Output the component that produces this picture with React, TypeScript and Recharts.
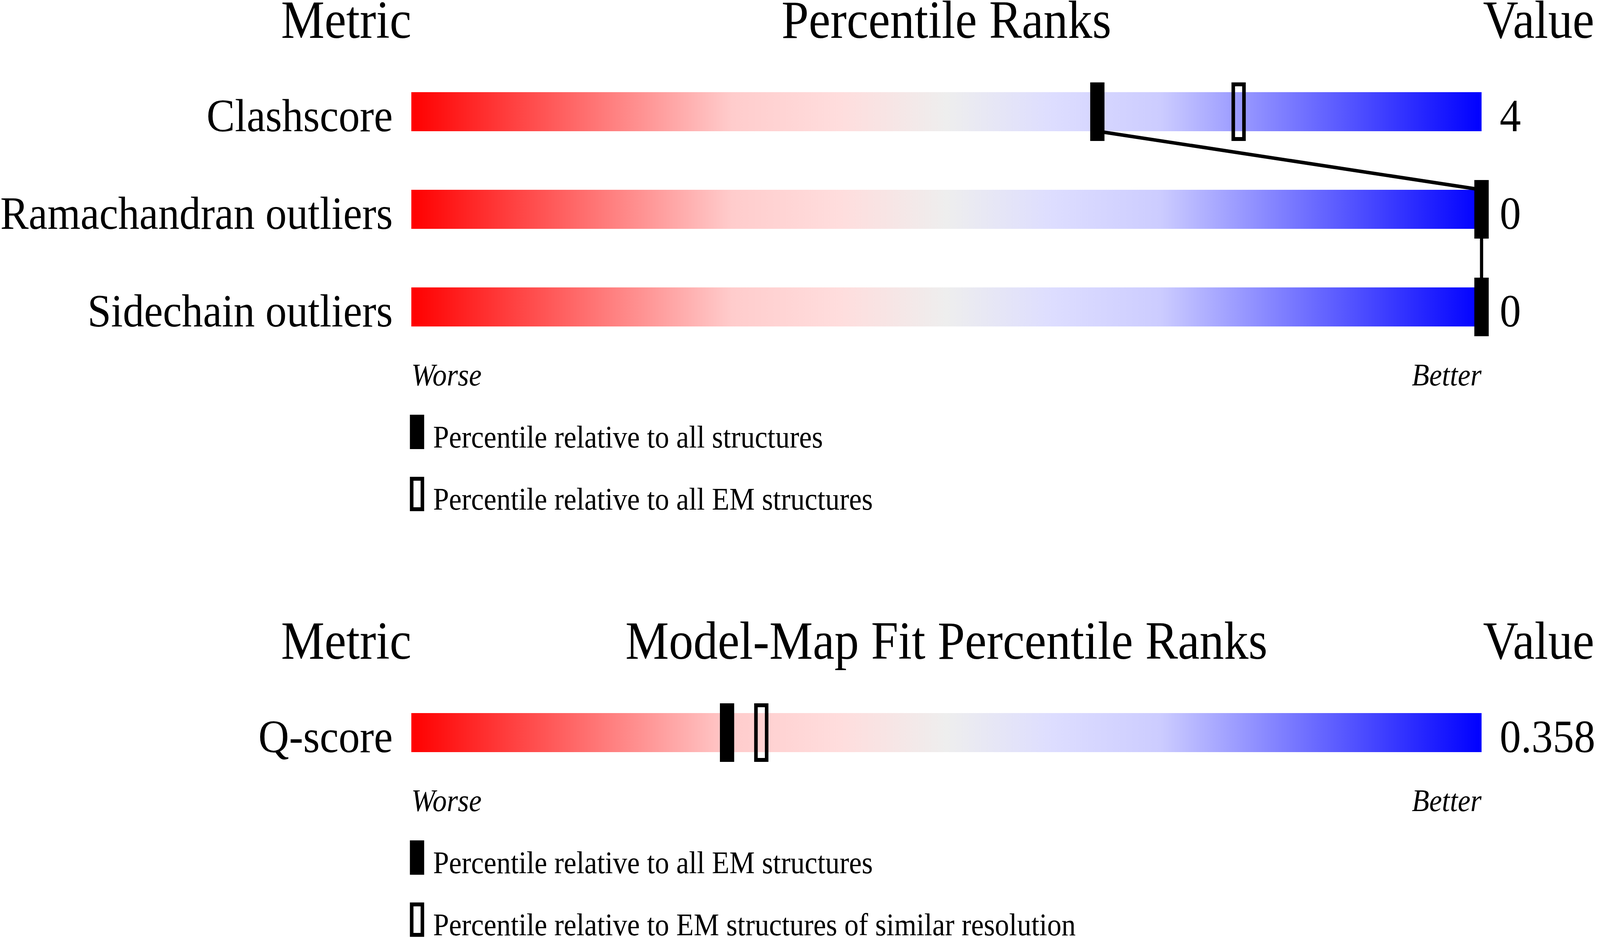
import { ComposedChart, XAxis, YAxis, Scatter, ReferenceArea } from 'recharts'

// validation sliders
const METRICS = ['Clashscore', 'Ramachandran outliers', 'Sidechain outliers']
const METRIC_VALUES = ['4', '0', '0']
const PCT_ALL = [64.1, 100, 100]
const PCT_EM = [77.3, 100, 100]

// model-map fit slider
const FIT_METRICS = ['Q-score']
const FIT_VALUES = ['0.358']
const FIT_PCT_EM = [29.5]
const FIT_PCT_RES = [32.7]

const GRADIENT = [
  { offset: '0%', color: '#ff0000' },
  { offset: '30%', color: '#ffcccc' },
  { offset: '40%', color: '#ffdddd' },
  { offset: '50%', color: '#eeeeee' },
  { offset: '60%', color: '#ddddff' },
  { offset: '70%', color: '#ccccff' },
  { offset: '100%', color: '#0000ff' },
]

// layout (px)
const W = 4485
const H = 2402
const BAR_LEFT = 1153
const BAR_RIGHT = 4153
const ROW0 = 286
const ROW_STEP = 250
const HALF_BAR = 50 / ROW_STEP
const FONT = '"Liberation Serif", "Times New Roman", serif'

const FilledMarker = (p: any) => (
  <rect x={p.cx - 20} y={p.cy - 75} width={40} height={150} fill="#000" />
)

const OpenMarker = (p: any) => (
  <rect x={p.cx - 15} y={p.cy - 70} width={30} height={140} fill="none" stroke="#000" strokeWidth={10} />
)

const NoShape = () => <g />

interface SliderProps {
  id: string
  title: string
  labels: string[]
  values: string[]
  filled: number[]
  open: number[]
  legendFilled: string
  legendOpen: string
  height: number
  top: number
}

function Slider({ id, title, labels, values, filled, open, legendFilled, legendOpen, height, top }: SliderProps) {
  const rows = labels.map((_, i) => i)
  const filledData = filled.map((pct, row) => ({ pct, row }))
  const openData = open.map((pct, row) => ({ pct, row }))

  // line from one filled marker (bar bottom) to the next (bar top)
  const connector: { pct: number; row: number }[] = []
  for (let i = 0; i < filled.length - 1; i++) {
    connector.push({ pct: filled[i], row: i + HALF_BAR })
    connector.push({ pct: filled[i + 1], row: i + 1 - HALF_BAR })
  }

  const domain = [-ROW0 / ROW_STEP, (height - ROW0) / ROW_STEP]
  const worseY = ROW0 + (labels.length - 1) * ROW_STEP + 50 + 151
  const leg1 = worseY + 159
  const leg2 = worseY + 318

  const leftTick = (p: any) => (
    <text x={p.x} y={p.y + 50} textAnchor="end" fontFamily={FONT} fontSize={119} fill="#000">
      {labels[p.payload.value]}
    </text>
  )
  const rightTick = (p: any) => (
    <text x={p.x} y={p.y + 50} textAnchor="start" fontFamily={FONT} fontSize={119} fill="#000">
      {values[p.payload.value]}
    </text>
  )

  return (
    <div style={{ position: 'absolute', left: 0, top, width: W, height }}>
      <ComposedChart width={W} height={height} margin={{ top: 0, right: 0, bottom: 0, left: 0 }}>
        <defs>
          <linearGradient id={`grad-${id}`} x1="0" y1="0" x2="1" y2="0">
            {GRADIENT.map((g) => (
              <stop key={g.offset} offset={g.offset} stopColor={g.color} />
            ))}
          </linearGradient>
        </defs>
        <XAxis xAxisId={0} type="number" dataKey="pct" domain={[0, 100]} hide />
        <YAxis
          yAxisId="left"
          type="number"
          dataKey="row"
          domain={domain}
          reversed
          ticks={rows}
          interval={0}
          width={BAR_LEFT}
          axisLine={false}
          tickLine={false}
          tickSize={0}
          tickMargin={52}
          tick={leftTick}
        />
        <YAxis
          yAxisId="right"
          orientation="right"
          type="number"
          dataKey="row"
          domain={domain}
          reversed
          ticks={rows}
          interval={0}
          width={W - BAR_RIGHT}
          axisLine={false}
          tickLine={false}
          tickSize={0}
          tickMargin={51}
          tick={rightTick}
        />
        {rows.map((i) => (
          <ReferenceArea
            key={i}
            xAxisId={0}
            yAxisId="left"
            x1={0}
            x2={100}
            y1={i - HALF_BAR}
            y2={i + HALF_BAR}
            fill={`url(#grad-${id})`}
            fillOpacity={1}
            stroke="none"
            ifOverflow="visible"
          />
        ))}
        {connector.length > 0 && (
          <Scatter
            xAxisId={0}
            yAxisId="left"
            data={connector}
            line={{ stroke: '#000', strokeWidth: 9 }}
            shape={NoShape}
            legendType="none"
            isAnimationActive={false}
          />
        )}
        <Scatter xAxisId={0} yAxisId="left" name={legendOpen} data={openData} shape={OpenMarker} isAnimationActive={false} />
        <Scatter xAxisId={0} yAxisId="left" name={legendFilled} data={filledData} shape={FilledMarker} isAnimationActive={false} />
        {/* keeps the value axis on the right bound to the rows */}
        <Scatter xAxisId={0} yAxisId="right" data={filledData} shape={NoShape} legendType="none" isAnimationActive={false} />
      </ComposedChart>

      <svg width={W} height={height} style={{ position: 'absolute', left: 0, top: 0, pointerEvents: 'none', overflow: 'visible' }}>
        <g fontFamily={FONT} fill="#000">
          <text x={BAR_LEFT} y={97} fontSize={137} textAnchor="end">Metric</text>
          <text x={(BAR_LEFT + BAR_RIGHT) / 2} y={97} fontSize={137} textAnchor="middle">{title}</text>
          <text x={BAR_RIGHT + 4} y={97} fontSize={137} textAnchor="start">Value</text>
          <text x={BAR_LEFT} y={worseY} fontSize={80} fontStyle="italic">Worse</text>
          <text x={BAR_RIGHT} y={worseY} fontSize={80} fontStyle="italic" textAnchor="end">Better</text>

          <rect x={BAR_LEFT - 4} y={leg1 - 84} width={40} height={88} fill="#000" />
          <text x={BAR_LEFT + 61} y={leg1} fontSize={80}>{legendFilled}</text>
          <rect x={BAR_LEFT + 1} y={leg2 - 79} width={30} height={78} fill="none" stroke="#000" strokeWidth={10} />
          <text x={BAR_LEFT + 61} y={leg2} fontSize={80}>{legendOpen}</text>
        </g>
      </svg>
    </div>
  )
}

export default function App() {
  // the browser may hand out a narrower viewport than 4485; fit the layout into it
  const vw = document.documentElement.clientWidth || W
  const vh = document.documentElement.clientHeight || H
  const sx = vw / W
  const sy = vh / H
  return (
    <div style={{ position: 'absolute', left: 0, top: 0, width: vw, height: vh, background: '#fff', overflow: 'hidden' }}>
      <div style={{ position: 'absolute', left: 0, top: 0, width: W, height: H, transform: `scale(${sx}, ${sy})`, transformOrigin: '0 0' }}>
        <Slider
          id="geo"
          title="Percentile Ranks"
          labels={METRICS}
          values={METRIC_VALUES}
          filled={PCT_ALL}
          open={PCT_EM}
          legendFilled="Percentile relative to all structures"
          legendOpen="Percentile relative to all EM structures"
          height={1590}
          top={0}
        />
        <Slider
          id="fit"
          title="Model-Map Fit Percentile Ranks"
          labels={FIT_METRICS}
          values={FIT_VALUES}
          filled={FIT_PCT_EM}
          open={FIT_PCT_RES}
          legendFilled="Percentile relative to all EM structures"
          legendOpen="Percentile relative to EM structures of similar resolution"
          height={812}
          top={1590}
        />
      </div>
    </div>
  )
}
